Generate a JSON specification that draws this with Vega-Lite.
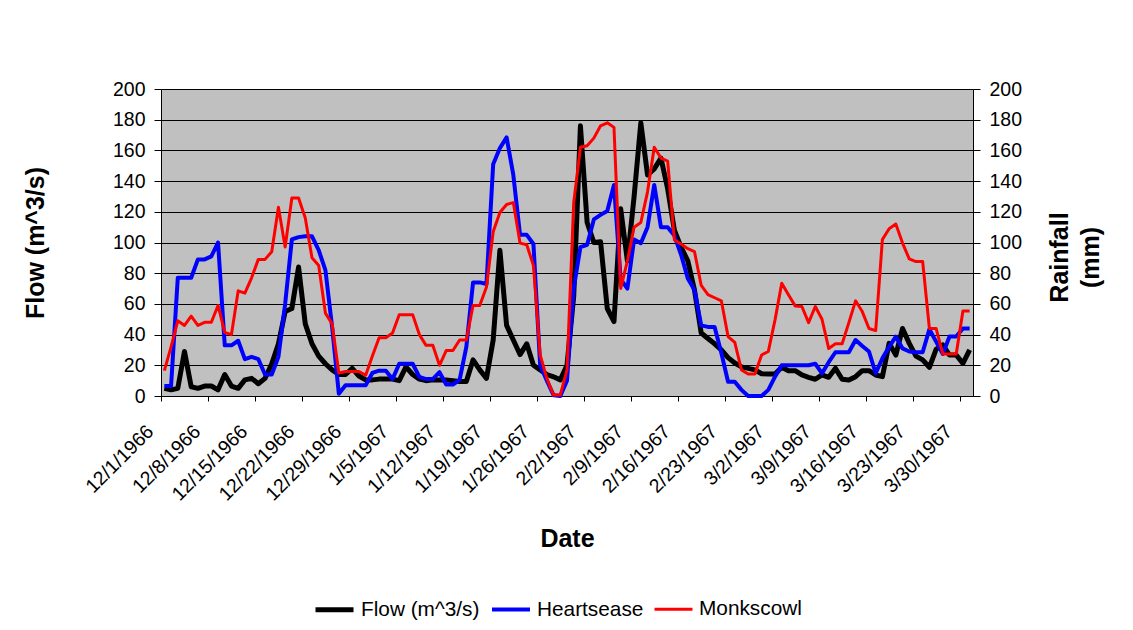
{
  "$schema": "https://vega.github.io/schema/vega-lite/v6.json",
  "width": 812,
  "height": 307,
  "autosize": {"type": "none"},
  "padding": {"left": 161, "top": 89, "right": 160, "bottom": 234},
  "background": "white",
  "config": {
    "font": "Liberation Sans",
    "view": {"fill": "#C0C0C0", "stroke": "#808080", "strokeWidth": 1},
    "axis": {"labelFont": "Liberation Sans", "titleFont": "Liberation Sans", "labelColor": "#000", "titleColor": "#000", "domainColor": "#000", "tickColor": "#000"},
    "legend": {"labelFont": "Liberation Sans", "labelColor": "#000"}
  },
  "data": {
    "values": [
      {"date": "1966/12/01", "Flow": 5, "Heartsease": 6.5, "Monkscowl": 16.5},
      {"date": "1966/12/02", "Flow": 4, "Heartsease": 6.5, "Monkscowl": 32},
      {"date": "1966/12/03", "Flow": 5, "Heartsease": 77, "Monkscowl": 49},
      {"date": "1966/12/04", "Flow": 29, "Heartsease": 77, "Monkscowl": 46},
      {"date": "1966/12/05", "Flow": 6, "Heartsease": 77, "Monkscowl": 52},
      {"date": "1966/12/06", "Flow": 5, "Heartsease": 89, "Monkscowl": 46},
      {"date": "1966/12/07", "Flow": 6.5, "Heartsease": 89, "Monkscowl": 48},
      {"date": "1966/12/08", "Flow": 6.5, "Heartsease": 91, "Monkscowl": 48},
      {"date": "1966/12/09", "Flow": 4, "Heartsease": 100, "Monkscowl": 59},
      {"date": "1966/12/10", "Flow": 14, "Heartsease": 33, "Monkscowl": 41.5},
      {"date": "1966/12/11", "Flow": 6.5, "Heartsease": 33, "Monkscowl": 40},
      {"date": "1966/12/12", "Flow": 5, "Heartsease": 36, "Monkscowl": 68.5},
      {"date": "1966/12/13", "Flow": 10.5, "Heartsease": 24, "Monkscowl": 67},
      {"date": "1966/12/14", "Flow": 11.5, "Heartsease": 25.5, "Monkscowl": 77},
      {"date": "1966/12/15", "Flow": 8, "Heartsease": 24, "Monkscowl": 89},
      {"date": "1966/12/16", "Flow": 11.5, "Heartsease": 14, "Monkscowl": 89},
      {"date": "1966/12/17", "Flow": 21, "Heartsease": 14, "Monkscowl": 94},
      {"date": "1966/12/18", "Flow": 34, "Heartsease": 25.5, "Monkscowl": 123},
      {"date": "1966/12/19", "Flow": 55, "Heartsease": 60, "Monkscowl": 97},
      {"date": "1966/12/20", "Flow": 57, "Heartsease": 102, "Monkscowl": 129},
      {"date": "1966/12/21", "Flow": 84, "Heartsease": 103.5, "Monkscowl": 129},
      {"date": "1966/12/22", "Flow": 47, "Heartsease": 104, "Monkscowl": 116},
      {"date": "1966/12/23", "Flow": 34, "Heartsease": 104, "Monkscowl": 90},
      {"date": "1966/12/24", "Flow": 26, "Heartsease": 95, "Monkscowl": 85},
      {"date": "1966/12/25", "Flow": 21, "Heartsease": 82, "Monkscowl": 54},
      {"date": "1966/12/26", "Flow": 17, "Heartsease": 45, "Monkscowl": 47},
      {"date": "1966/12/27", "Flow": 14, "Heartsease": 1.5, "Monkscowl": 15},
      {"date": "1966/12/28", "Flow": 14, "Heartsease": 7, "Monkscowl": 16},
      {"date": "1966/12/29", "Flow": 18, "Heartsease": 7, "Monkscowl": 16},
      {"date": "1966/12/30", "Flow": 13, "Heartsease": 7, "Monkscowl": 16},
      {"date": "1966/12/31", "Flow": 10.5, "Heartsease": 7, "Monkscowl": 13.5},
      {"date": "1967/01/01", "Flow": 10.5, "Heartsease": 15, "Monkscowl": 26},
      {"date": "1967/01/02", "Flow": 11, "Heartsease": 16.5, "Monkscowl": 38},
      {"date": "1967/01/03", "Flow": 11, "Heartsease": 16.5, "Monkscowl": 38},
      {"date": "1967/01/04", "Flow": 11, "Heartsease": 11, "Monkscowl": 41},
      {"date": "1967/01/05", "Flow": 10, "Heartsease": 21, "Monkscowl": 53},
      {"date": "1967/01/06", "Flow": 19, "Heartsease": 21, "Monkscowl": 53},
      {"date": "1967/01/07", "Flow": 14, "Heartsease": 21, "Monkscowl": 53},
      {"date": "1967/01/08", "Flow": 11, "Heartsease": 12.5, "Monkscowl": 40},
      {"date": "1967/01/09", "Flow": 10, "Heartsease": 11, "Monkscowl": 33},
      {"date": "1967/01/10", "Flow": 10.5, "Heartsease": 11, "Monkscowl": 33},
      {"date": "1967/01/11", "Flow": 10.5, "Heartsease": 15.5, "Monkscowl": 20},
      {"date": "1967/01/12", "Flow": 10.5, "Heartsease": 7.5, "Monkscowl": 29.6},
      {"date": "1967/01/13", "Flow": 10, "Heartsease": 7.5, "Monkscowl": 29.6},
      {"date": "1967/01/14", "Flow": 9.5, "Heartsease": 10.5, "Monkscowl": 36.5},
      {"date": "1967/01/15", "Flow": 9.5, "Heartsease": 32, "Monkscowl": 36.5},
      {"date": "1967/01/16", "Flow": 23.5, "Heartsease": 74, "Monkscowl": 59},
      {"date": "1967/01/17", "Flow": 17, "Heartsease": 74, "Monkscowl": 59},
      {"date": "1967/01/18", "Flow": 11.5, "Heartsease": 73, "Monkscowl": 71},
      {"date": "1967/01/19", "Flow": 36.5, "Heartsease": 151, "Monkscowl": 107},
      {"date": "1967/01/20", "Flow": 95, "Heartsease": 161.5, "Monkscowl": 119.6},
      {"date": "1967/01/21", "Flow": 46, "Heartsease": 168.5, "Monkscowl": 124.8},
      {"date": "1967/01/22", "Flow": 36.5, "Heartsease": 144, "Monkscowl": 126},
      {"date": "1967/01/23", "Flow": 27, "Heartsease": 105, "Monkscowl": 99.6},
      {"date": "1967/01/24", "Flow": 34, "Heartsease": 105, "Monkscowl": 98.5},
      {"date": "1967/01/25", "Flow": 20, "Heartsease": 99, "Monkscowl": 85},
      {"date": "1967/01/26", "Flow": 17, "Heartsease": 20, "Monkscowl": 26.7},
      {"date": "1967/01/27", "Flow": 14, "Heartsease": 10, "Monkscowl": 11.5},
      {"date": "1967/01/28", "Flow": 12.5, "Heartsease": 0.5, "Monkscowl": 0.6},
      {"date": "1967/01/29", "Flow": 10.5, "Heartsease": 0, "Monkscowl": 0.6},
      {"date": "1967/01/30", "Flow": 20, "Heartsease": 10, "Monkscowl": 17},
      {"date": "1967/01/31", "Flow": 65, "Heartsease": 70, "Monkscowl": 126},
      {"date": "1967/02/01", "Flow": 176, "Heartsease": 97, "Monkscowl": 162},
      {"date": "1967/02/02", "Flow": 113, "Heartsease": 98.5, "Monkscowl": 163},
      {"date": "1967/02/03", "Flow": 100, "Heartsease": 115, "Monkscowl": 168},
      {"date": "1967/02/04", "Flow": 100.5, "Heartsease": 118, "Monkscowl": 176},
      {"date": "1967/02/05", "Flow": 57, "Heartsease": 120.5, "Monkscowl": 178},
      {"date": "1967/02/06", "Flow": 48.5, "Heartsease": 137.5, "Monkscowl": 175},
      {"date": "1967/02/07", "Flow": 122, "Heartsease": 76, "Monkscowl": 70},
      {"date": "1967/02/08", "Flow": 88, "Heartsease": 70, "Monkscowl": 88},
      {"date": "1967/02/09", "Flow": 130, "Heartsease": 102, "Monkscowl": 110},
      {"date": "1967/02/10", "Flow": 178, "Heartsease": 99.5, "Monkscowl": 113},
      {"date": "1967/02/11", "Flow": 144, "Heartsease": 110, "Monkscowl": 133},
      {"date": "1967/02/12", "Flow": 148, "Heartsease": 137.5, "Monkscowl": 162},
      {"date": "1967/02/13", "Flow": 155, "Heartsease": 110, "Monkscowl": 155},
      {"date": "1967/02/14", "Flow": 135, "Heartsease": 110, "Monkscowl": 153},
      {"date": "1967/02/15", "Flow": 108, "Heartsease": 104.5, "Monkscowl": 101.7},
      {"date": "1967/02/16", "Flow": 97, "Heartsease": 92, "Monkscowl": 99},
      {"date": "1967/02/17", "Flow": 88, "Heartsease": 76.5, "Monkscowl": 96},
      {"date": "1967/02/18", "Flow": 69, "Heartsease": 69, "Monkscowl": 94},
      {"date": "1967/02/19", "Flow": 41, "Heartsease": 46, "Monkscowl": 72},
      {"date": "1967/02/20", "Flow": 37.5, "Heartsease": 45, "Monkscowl": 66},
      {"date": "1967/02/21", "Flow": 34, "Heartsease": 45, "Monkscowl": 64},
      {"date": "1967/02/22", "Flow": 30, "Heartsease": 28, "Monkscowl": 62},
      {"date": "1967/02/23", "Flow": 25, "Heartsease": 9.3, "Monkscowl": 38.7},
      {"date": "1967/02/24", "Flow": 21.5, "Heartsease": 9.3, "Monkscowl": 35},
      {"date": "1967/02/25", "Flow": 19, "Heartsease": 4, "Monkscowl": 17},
      {"date": "1967/02/26", "Flow": 18, "Heartsease": 0, "Monkscowl": 14.3},
      {"date": "1967/02/27", "Flow": 17, "Heartsease": 0, "Monkscowl": 14.3},
      {"date": "1967/02/28", "Flow": 14.5, "Heartsease": 0, "Monkscowl": 26.7},
      {"date": "1967/03/01", "Flow": 14.3, "Heartsease": 4, "Monkscowl": 29},
      {"date": "1967/03/02", "Flow": 14.3, "Heartsease": 12.6, "Monkscowl": 49.6},
      {"date": "1967/03/03", "Flow": 18.7, "Heartsease": 20, "Monkscowl": 73.5},
      {"date": "1967/03/04", "Flow": 16.5, "Heartsease": 20, "Monkscowl": 66},
      {"date": "1967/03/05", "Flow": 16.5, "Heartsease": 20, "Monkscowl": 58.7},
      {"date": "1967/03/06", "Flow": 13.7, "Heartsease": 20, "Monkscowl": 58.3},
      {"date": "1967/03/07", "Flow": 12.2, "Heartsease": 20, "Monkscowl": 47.8},
      {"date": "1967/03/08", "Flow": 10.9, "Heartsease": 21, "Monkscowl": 58.3},
      {"date": "1967/03/09", "Flow": 13.7, "Heartsease": 14.8, "Monkscowl": 50},
      {"date": "1967/03/10", "Flow": 12.2, "Heartsease": 22, "Monkscowl": 30.9},
      {"date": "1967/03/11", "Flow": 18, "Heartsease": 28.5, "Monkscowl": 34},
      {"date": "1967/03/12", "Flow": 10.9, "Heartsease": 28.5, "Monkscowl": 34},
      {"date": "1967/03/13", "Flow": 10.4, "Heartsease": 28.5, "Monkscowl": 47.8},
      {"date": "1967/03/14", "Flow": 12.6, "Heartsease": 36.5, "Monkscowl": 62},
      {"date": "1967/03/15", "Flow": 16.5, "Heartsease": 32.6, "Monkscowl": 55},
      {"date": "1967/03/16", "Flow": 16.5, "Heartsease": 29, "Monkscowl": 44},
      {"date": "1967/03/17", "Flow": 13.7, "Heartsease": 14.8, "Monkscowl": 42.6},
      {"date": "1967/03/18", "Flow": 12.6, "Heartsease": 24.6, "Monkscowl": 102},
      {"date": "1967/03/19", "Flow": 34.3, "Heartsease": 32, "Monkscowl": 109},
      {"date": "1967/03/20", "Flow": 26.7, "Heartsease": 38.7, "Monkscowl": 112},
      {"date": "1967/03/21", "Flow": 44, "Heartsease": 31, "Monkscowl": 99.6},
      {"date": "1967/03/22", "Flow": 34.3, "Heartsease": 29, "Monkscowl": 89.3},
      {"date": "1967/03/23", "Flow": 26, "Heartsease": 28.5, "Monkscowl": 87.6},
      {"date": "1967/03/24", "Flow": 23.5, "Heartsease": 28.5, "Monkscowl": 87.6},
      {"date": "1967/03/25", "Flow": 18.7, "Heartsease": 43.5, "Monkscowl": 44},
      {"date": "1967/03/26", "Flow": 30.4, "Heartsease": 35.4, "Monkscowl": 44},
      {"date": "1967/03/27", "Flow": 33.3, "Heartsease": 27.4, "Monkscowl": 27.4},
      {"date": "1967/03/28", "Flow": 26.7, "Heartsease": 38.7, "Monkscowl": 27.4},
      {"date": "1967/03/29", "Flow": 26.7, "Heartsease": 38.7, "Monkscowl": 27.4},
      {"date": "1967/03/30", "Flow": 21.3, "Heartsease": 44, "Monkscowl": 55.4},
      {"date": "1967/03/31", "Flow": 30, "Heartsease": 44, "Monkscowl": 55.4}
    ]
  },
  "transform": [{"fold": ["Flow", "Heartsease", "Monkscowl"], "as": ["series", "value"]}],
  "encoding": {
    "x": {
      "field": "date",
      "type": "temporal",
      "scale": {"domain": [{"year": 1966, "month": 11, "date": 30, "hours": 12}, {"year": 1967, "month": 3, "date": 31, "hours": 12}]},
      "axis": {
        "values": [
          {"year": 1966, "month": 11, "date": 30, "hours": 12},
          {"year": 1966, "month": 12, "date": 7, "hours": 12},
          {"year": 1966, "month": 12, "date": 14, "hours": 12},
          {"year": 1966, "month": 12, "date": 21, "hours": 12},
          {"year": 1966, "month": 12, "date": 28, "hours": 12},
          {"year": 1967, "month": 1, "date": 4, "hours": 12},
          {"year": 1967, "month": 1, "date": 11, "hours": 12},
          {"year": 1967, "month": 1, "date": 18, "hours": 12},
          {"year": 1967, "month": 1, "date": 25, "hours": 12},
          {"year": 1967, "month": 2, "date": 1, "hours": 12},
          {"year": 1967, "month": 2, "date": 8, "hours": 12},
          {"year": 1967, "month": 2, "date": 15, "hours": 12},
          {"year": 1967, "month": 2, "date": 22, "hours": 12},
          {"year": 1967, "month": 3, "date": 1, "hours": 12},
          {"year": 1967, "month": 3, "date": 8, "hours": 12},
          {"year": 1967, "month": 3, "date": 15, "hours": 12},
          {"year": 1967, "month": 3, "date": 22, "hours": 12},
          {"year": 1967, "month": 3, "date": 29, "hours": 12}
        ],
        "labelExpr": "timeFormat(time(datum.value) + 43200000, '%-m/%-d/%Y')",
        "labelAngle": -45,
        "labelAlign": "right",
        "labelBaseline": "middle",
        "labelOffset": -11,
        "labelPadding": 27,
        "labelFontSize": 19.5,
        "labelOverlap": false,
        "labelBound": false,
        "labelFlush": false,
        "tickSize": 5,
        "grid": false,
        "title": "Date",
        "titleFontSize": 25,
        "titleFontWeight": "bold",
        "titleX": 406,
        "titleY": 150,
        "titleAlign": "center",
        "titleBaseline": "alphabetic"
      }
    },
    "color": {
      "field": "series",
      "type": "nominal",
      "scale": {"domain": ["Flow", "Heartsease", "Monkscowl"], "range": ["#000000", "#0000FF", "#FF0000"]},
      "legend": {
        "orient": "none",
        "legendX": 152,
        "legendY": 499,
        "direction": "horizontal",
        "title": null,
        "labelExpr": "datum.label == 'Flow' ? 'Flow (m^3/s)' : datum.label",
        "labelFontSize": 20.8,
        "symbolType": "stroke",
        "symbolSize": 1444,
        "labelOffset": 5,
        "columnPadding": 4,
        "padding": 0
      }
    },
    "strokeWidth": {
      "field": "series",
      "type": "nominal",
      "scale": {"domain": ["Flow", "Heartsease", "Monkscowl"], "range": [5, 3, 1.6]},
      "legend": {
        "orient": "none",
        "legendX": 152,
        "legendY": 499,
        "direction": "horizontal",
        "title": null,
        "labelExpr": "datum.label == 'Flow' ? 'Flow (m^3/s)' : datum.label",
        "labelFontSize": 20.8,
        "symbolType": "stroke",
        "symbolSize": 1444,
        "labelOffset": 5,
        "columnPadding": 4,
        "padding": 0
      }
    }
  },
  "layer": [
    {
      "transform": [{"filter": "datum.series == 'Flow'"}],
      "mark": {"type": "line", "strokeJoin": "round"},
      "encoding": {
        "y": {
          "field": "value",
          "type": "quantitative",
          "scale": {"domain": [0, 200], "nice": false},
          "axis": {
            "orient": "left",
            "values": [0, 20, 40, 60, 80, 100, 120, 140, 160, 180, 200],
            "title": "Flow (m^3/s)",
            "titleFontSize": 25,
            "titleFontWeight": "bold",
            "titleAngle": -90,
            "titleX": -118,
            "titleY": 153.5,
            "titleAlign": "center",
            "titleBaseline": "alphabetic",
            "labelFontSize": 19.5,
            "labelPadding": 9,
            "tickSize": 7,
            "grid": true,
            "gridColor": "#000000",
            "gridWidth": 1
          }
        }
      }
    },
    {
      "transform": [{"filter": "datum.series != 'Flow'"}],
      "mark": {"type": "line", "strokeJoin": "round"},
      "encoding": {
        "y": {
          "field": "value",
          "type": "quantitative",
          "scale": {"domain": [0, 200], "nice": false},
          "axis": {
            "orient": "right",
            "values": [0, 20, 40, 60, 80, 100, 120, 140, 160, 180, 200],
            "title": ["Rainfall", "(mm)"],
            "titleFontSize": 25,
            "titleFontWeight": "bold",
            "titleAngle": -90,
            "titleX": 94,
            "titleY": 168,
            "titleAlign": "center",
            "titleBaseline": "alphabetic",
            "titleLineHeight": 31,
            "labelFontSize": 19.5,
            "labelPadding": 9,
            "tickSize": 7,
            "grid": false
          }
        }
      }
    }
  ],
  "resolve": {"scale": {"y": "independent"}}
}
